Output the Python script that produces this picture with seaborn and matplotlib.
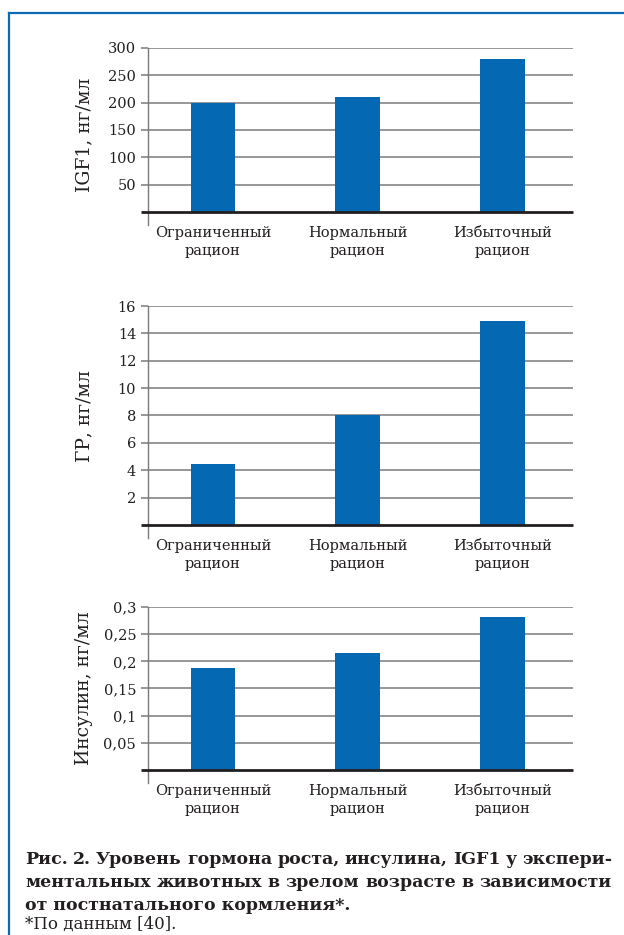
import matplotlib
matplotlib.use("Agg")
import matplotlib.pyplot as plt
import seaborn as sns
import pandas as pd
from matplotlib.lines import Line2D

# ---- data -------------------------------------------------------------
diets = ["Ограниченный\nрацион", "Нормальный\nрацион", "Избыточный\nрацион"]

igf1 = [199, 211, 279]
gh = [4.45, 8.05, 14.9]
insulin = [0.187, 0.215, 0.281]

igf1_ticks = [50, 100, 150, 200, 250, 300]
igf1_ticklabels = ["50", "100", "150", "200", "250", "300"]
gh_ticks = [2, 4, 6, 8, 10, 12, 14, 16]
gh_ticklabels = ["2", "4", "6", "8", "10", "12", "14", "16"]
insulin_ticks = [0.05, 0.1, 0.15, 0.2, 0.25, 0.3]
insulin_ticklabels = ["0,05", "0,1", "0,15", "0,2", "0,25", "0,3"]

ylabels = ["IGF1, нг/мл", "ГР, нг/мл", "Инсулин, нг/мл"]

caption_lines = [
    "Рис. 2. Уровень гормона роста, инсулина, IGF1 у экспери-",
    "ментальных животных в зрелом возрасте в зависимости",
    "от постнатального кормления*.",
]
source_note = "*По данным [40]."

# ---- style ------------------------------------------------------------
sns.set_theme(style="white")
plt.rcParams["font.family"] = ["DejaVu Serif"]

W, H = 624, 935
BAR = "#0568B3"
FRAME = "#0A6AB4"
GRID = "#7A7A7A"
BASE = "#231F20"
TEXT = "#231F20"

fig = plt.figure(figsize=(W / 100, H / 100), dpi=100)


def px_rect(x0, top, x1, bottom):
    return [x0 / W, 1 - bottom / H, (x1 - x0) / W, (bottom - top) / H]


panels = [
    dict(values=igf1, ticks=igf1_ticks, labels=igf1_ticklabels, ylim=(-23.8, 300),
         rect=px_rect(148, 48, 573, 225), label_y=135),
    dict(values=gh, ticks=gh_ticks, labels=gh_ticklabels, ylim=(-0.95, 16),
         rect=px_rect(148, 306, 573, 538), label_y=416),
    dict(values=insulin, ticks=insulin_ticks, labels=insulin_ticklabels, ylim=(-0.024, 0.3),
         rect=px_rect(148, 607, 573, 783), label_y=688),
]

for p, ylab in zip(panels, ylabels):
    ax = fig.add_axes(p["rect"])
    df = pd.DataFrame({"diet": diets, "value": p["values"]})
    sns.barplot(data=df, x="diet", y="value", color=BAR, saturation=1,
                width=0.31, linewidth=0, ax=ax, zorder=3)
    ax.set_xlim(-0.449, 2.489)
    ax.set_ylim(*p["ylim"])
    ax.set_yticks(p["ticks"])
    ax.set_yticklabels(p["labels"])
    ax.set_xlabel("")
    ax.set_ylabel("")
    ax.set_axisbelow(True)
    ax.yaxis.grid(True, color=GRID, lw=1.1)
    ax.xaxis.grid(False)
    for side in ("top", "right", "bottom"):
        ax.spines[side].set_visible(False)
    ax.spines["left"].set_color(GRID)
    ax.spines["left"].set_linewidth(1.0)
    ax.tick_params(axis="y", length=5, width=1.1, color=GRID, pad=3.5,
                   labelsize=10.5, labelcolor=TEXT, left=True)
    ax.tick_params(axis="x", length=0, pad=1, labelsize=10.5, labelcolor=TEXT)
    for t in ax.get_xticklabels():
        t.set_linespacing(1.35)
    # zero line, running slightly past the axis like the tick stubs
    ax.plot([-7 / 425, 1], [0, 0], transform=ax.get_yaxis_transform(),
            color=BASE, lw=2.0, clip_on=False, zorder=4, solid_capstyle="butt")
    fig.text(84 / W, 1 - p["label_y"] / H, ylab, rotation=90, ha="center",
             va="center", fontsize=13.5, color=TEXT)

# ---- frame ------------------------------------------------------------
fig.add_artist(Line2D([9 / W, 1.02], [1 - 13 / H] * 2, transform=fig.transFigure,
                      color=FRAME, lw=1.6, solid_capstyle="projecting"))
fig.add_artist(Line2D([9 / W] * 2, [1 - 13 / H, -0.02], transform=fig.transFigure,
                      color=FRAME, lw=1.6, solid_capstyle="projecting"))

# ---- caption ----------------------------------------------------------
renderer = fig.canvas.get_renderer()
cap_kw = dict(fontsize=12.5, fontweight="bold", color=TEXT, va="baseline", ha="left")
x0, x1 = 25, 612
baselines = [864, 887, 910]
for i, (line, yb) in enumerate(zip(caption_lines, baselines)):
    if i < len(caption_lines) - 1:
        words = line.split(" ")
        texts = [fig.text(0, 1 - yb / H, w, **cap_kw) for w in words]
        widths = [t.get_window_extent(renderer).width for t in texts]
        gap = (x1 - x0 - sum(widths)) / (len(words) - 1)
        x = x0
        for t, w in zip(texts, widths):
            t.set_x(x / W)
            x += w + gap
    else:
        fig.text(x0 / W, 1 - yb / H, line, **cap_kw)

fig.text(x0 / W, 1 - 929 / H, source_note, fontsize=12, color=TEXT,
         va="baseline", ha="left")

fig.savefig("out.png", dpi=100)
